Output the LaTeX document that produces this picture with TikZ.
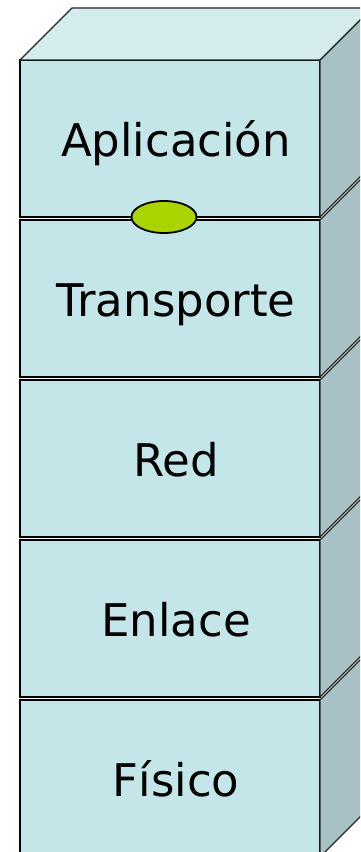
\documentclass[tikz,border=0pt]{standalone}
\usepackage{fontspec}
\setmainfont{DejaVu Sans}
\usetikzlibrary{shapes.geometric}
\definecolor{frontcol}{HTML}{C4E6E9}
\definecolor{sidecol}{HTML}{A7C1C4}
\definecolor{topcol}{HTML}{D4ECEE}
\definecolor{sapcol}{HTML}{AAD400}
\tikzset{
  layer/.style={draw,line width=2.4pt,fill=frontcol,minimum width=300pt,
    minimum height=157pt,inner sep=0pt,outer sep=0pt},
  layertext/.style={inner sep=0pt,text height=40pt,text depth=3pt,
    font=\fontsize{45}{50}\selectfont},
  sideface/.style={fill=sidecol,draw=black!85,line width=1.1pt},
  topface/.style={fill=topcol,draw=black!85,line width=1.1pt},
  socket/.style={ellipse,draw,line width=1.8pt,fill=sapcol,
    minimum width=65pt,minimum height=32pt,inner sep=0pt}
}
\begin{document}
\begin{tikzpicture}[x=1pt,y=1pt]
  \useasboundingbox[fill=white] (0,0) rectangle (360,852);
  \begin{scope}
    \clip (0,0) rectangle (360,852);
    % the five layers, front face plus right face
    \foreach \lay/\txt [count=\i from 0] in {apl/Aplicación,tra/Transporte,red/Red,enl/Enlace,fis/Físico}{
      \node[layer] (\lay) at (170,{713.5-160*\i}) {};
      \node[layertext] (\lay-txt) at ([xshift=6pt]\lay.center) {\txt};
      \draw[sideface] (\lay.north east) -- ++(52,52)
        -- ([shift={(52,52)}]\lay.south east) -- (\lay.south east) -- cycle;
    }
    % top face of the stack
    \draw[topface] (apl.north west) -- ++(52,52)
      -- ([shift={(52,52)}]apl.north east) -- (apl.north east) -- cycle;
    \node[socket] (sap) at ([xshift=-6pt]apl.south) {};
  \end{scope}
\end{tikzpicture}
\end{document}
